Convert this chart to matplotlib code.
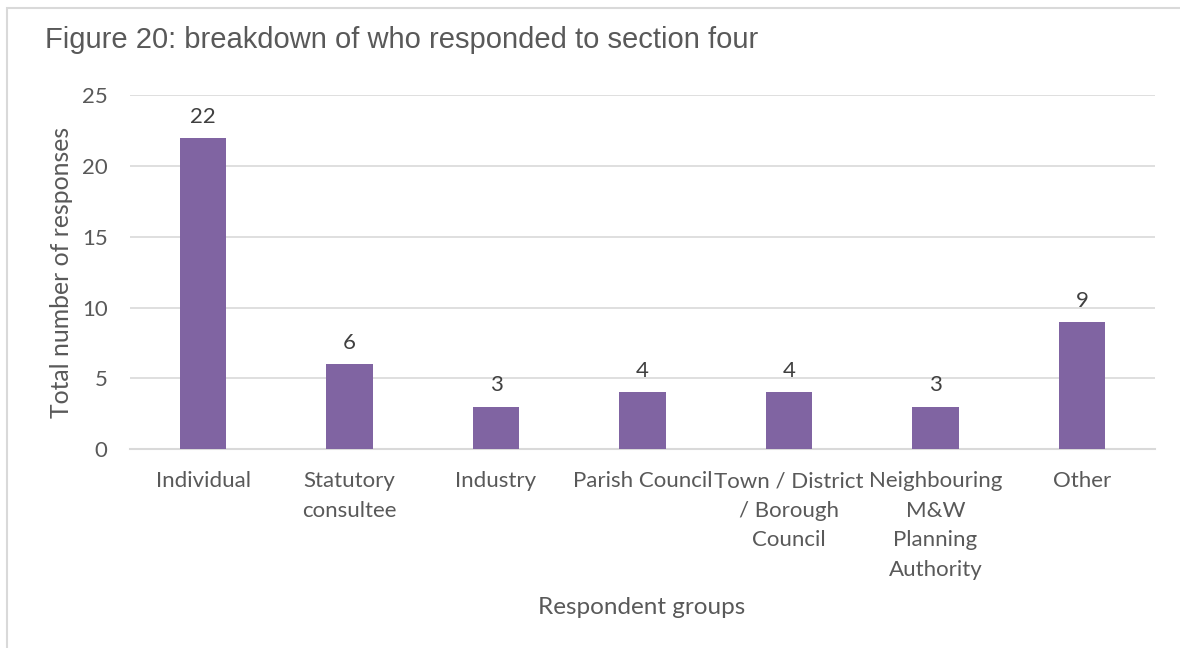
import matplotlib.pyplot as plt
from matplotlib.patches import Rectangle

# data
categories = ['Individual', 'Statutory\nconsultee', 'Industry', 'Parish Council',
              'Town / District\n/ Borough\nCouncil', 'Neighbouring\nM&W\nPlanning\nAuthority', 'Other']
responses = [22, 6, 3, 4, 4, 3, 9]
y_ticks = [0, 5, 10, 15, 20, 25]

bar_color = '#8064A2'
text_color = '#595959'
grid_color = '#D9D9D9'

fig = plt.figure(figsize=(11.8, 6.48), dpi=100)
ax = fig.add_axes([0.110, 0.307, 0.869, 0.546])

# light frame round the chart area (runs off the right and bottom edges)
fig.patches.append(Rectangle((7 / 1180, -0.1), 1.2, 1 - 8 / 648 + 0.1,
                             transform=fig.transFigure, fill=False,
                             edgecolor=grid_color, linewidth=1.5))

x = range(len(categories))
bars = ax.bar(x, responses, width=0.32, color=bar_color, zorder=3)

for rect, v in zip(bars, responses):
    ax.annotate(str(v), (rect.get_x() + rect.get_width() / 2, v),
                xytext=(0, 8), textcoords='offset points',
                ha='center', va='bottom', fontsize=16, color='#404040',
                family='Lato')

ax.set_xlim(-0.5, len(categories) - 0.5)
ax.set_ylim(0, 25)
ax.set_yticks(y_ticks)
ax.set_xticks(list(x))
ax.set_xticklabels(categories, fontsize=16, color=text_color, family='Lato',
                   linespacing=1.6, va='top')
ax.tick_params(axis='y', labelsize=16, labelcolor=text_color, length=0, pad=16)
ax.tick_params(axis='x', length=0, pad=16)
for lbl in ax.get_yticklabels():
    lbl.set_family('Lato')

ax.grid(axis='y', color=grid_color, linewidth=1.2, zorder=0)
for s in ['top', 'right', 'left']:
    ax.spines[s].set_visible(False)
ax.spines['bottom'].set_color(grid_color)
ax.spines['bottom'].set_linewidth(1.5)

ax.set_ylabel('Total number of responses', fontsize=17.8, color=text_color,
              family='Lato', labelpad=6)
fig.text(642 / 1180, 1 - 607 / 648, 'Respondent groups', fontsize=17.5,
         color=text_color, family='Lato', ha='center', va='center')

fig.text(45 / 1180, 1 - 40 / 648, 'Figure 20: breakdown of who responded to section four',
         fontsize=21, color=text_color, family='Liberation Sans',
         ha='left', va='center')

fig.savefig('out.png', dpi=100, facecolor='white')
